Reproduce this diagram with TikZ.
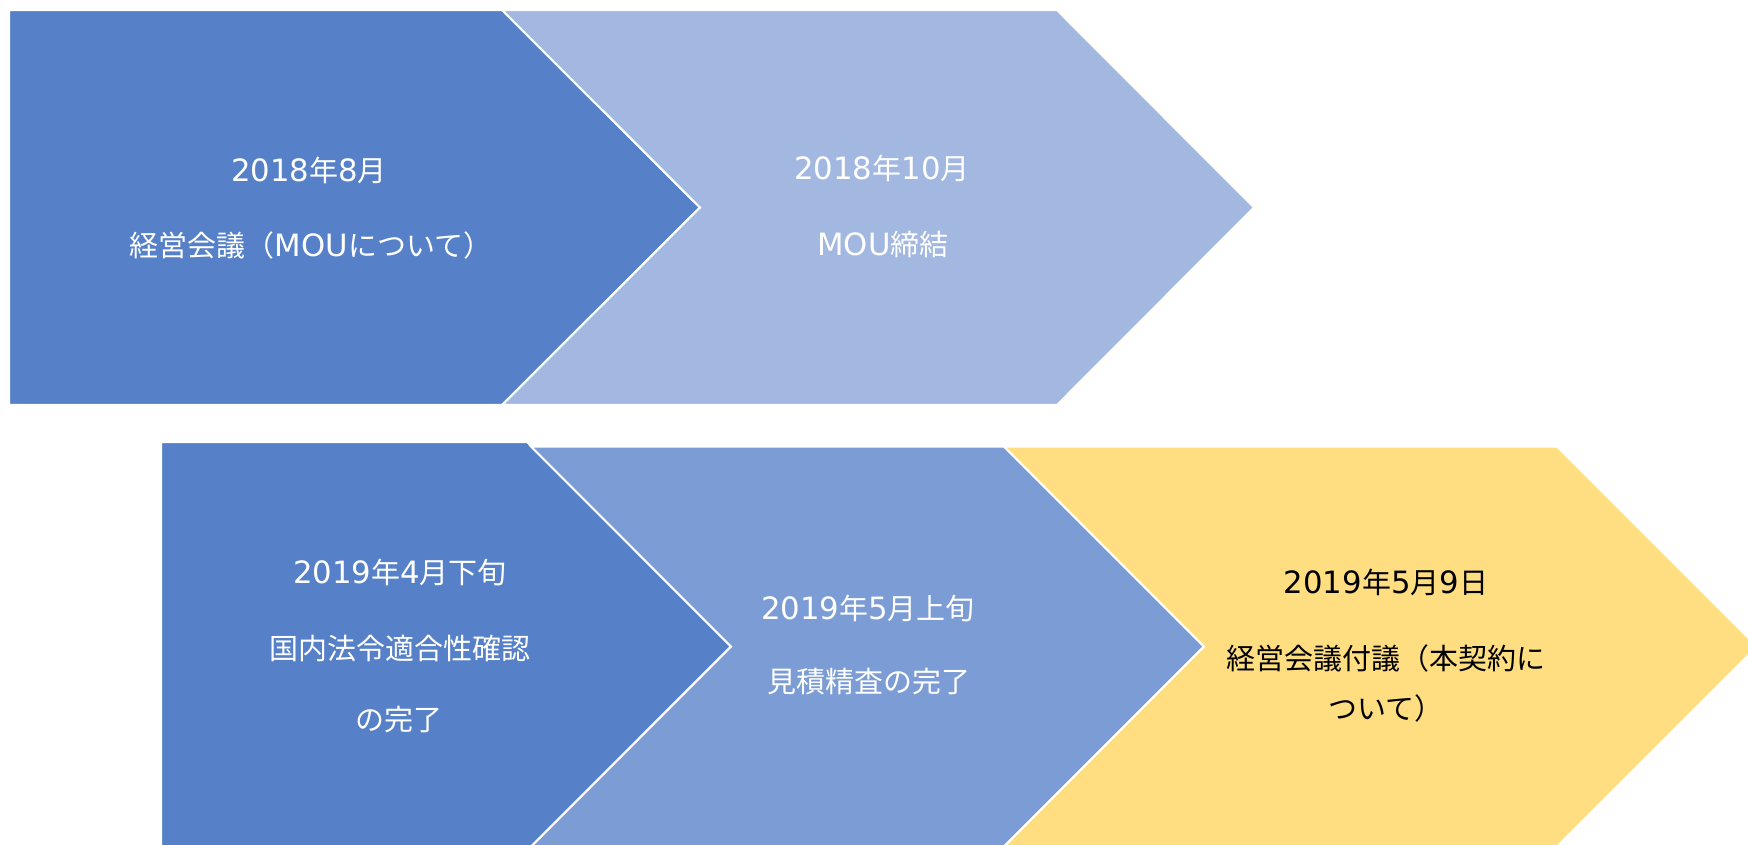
\documentclass[tikz,border=0pt]{standalone}
\usepackage{fontspec}
\setmainfont{Noto Sans CJK JP}
\newfontfamily\latfont{DejaVu Sans}[Scale=1.06]
\newcommand{\la}[1]{{\latfont #1}}
\definecolor{xanhdam}{HTML}{5681C8}
\definecolor{xanhnhat}{HTML}{A2B8E0}
\definecolor{xanhvua}{HTML}{7B9CD4}
\definecolor{vang}{HTML}{FFDE82}
\begin{document}
\begin{tikzpicture}[x=0.02cm, y=-0.02cm, line join=miter, font=\fontsize{16.5}{20}\selectfont,
	khoi/.style={draw=white, line width=1.2pt},
	chu/.style={text=white, inner sep=0pt},
	chuden/.style={text=black, inner sep=0pt}]
			\clip (0,0) rectangle (1748,845);
			\fill[white] (0,0) rectangle (1748,845);
			\filldraw[khoi, fill=xanhdam] (9,10)--(502,10)--(700,207.5)--(502,405)--(9,405)--cycle;
			\filldraw[khoi, fill=xanhnhat] (502,10)--(1057,10)--(1254,207.5)--(1057,405)--(502,405)--(700,207.5)--cycle;
			\filldraw[khoi, fill=xanhdam] (161,442)--(527,442)--(731,646.5)--(527,851)--(161,851)--cycle;
			\filldraw[khoi, fill=xanhvua] (531,446.5)--(1004,446.5)--(1204,646.5)--(1004,846.5)--(531,846.5)--(731,646.5)--cycle;
			\filldraw[khoi, fill=vang] (1004,446.5)--(1557,446.5)--(1757,646.5)--(1557,846.5)--(1004,846.5)--(1204,646.5)--cycle;
			\node[chu] (a1) at (309,170){\la{2018}年\la{8}月};
			\node[chu] (a2) at (311,245){経営会議（\la{MOU}について）};
			\node[chu] (b1) at (882,168){\la{2018}年\la{10}月};
			\node[chu] (b2) at (883,245){\la{MOU}締結};
			\node[chu] (c1) at (400,572){\la{2019}年\la{4}月下旬};
			\node[chu] (c2) at (400,648){国内法令適合性確認};
			\node[chu] (c3) at (399,720){の完了};
			\node[chu] (d1) at (868,608){\la{2019}年\la{5}月上旬};
			\node[chu] (d2) at (869,682){見積精査の完了};
			\node[chuden] (e1) at (1386,582){\la{2019}年\la{5}月\la{9}日};
			\node[chuden] (e2) at (1386,658){経営会議付議（本契約に};
			\node[chuden] (e3) at (1386,708){ついて）};
		\end{tikzpicture}
\end{document}
